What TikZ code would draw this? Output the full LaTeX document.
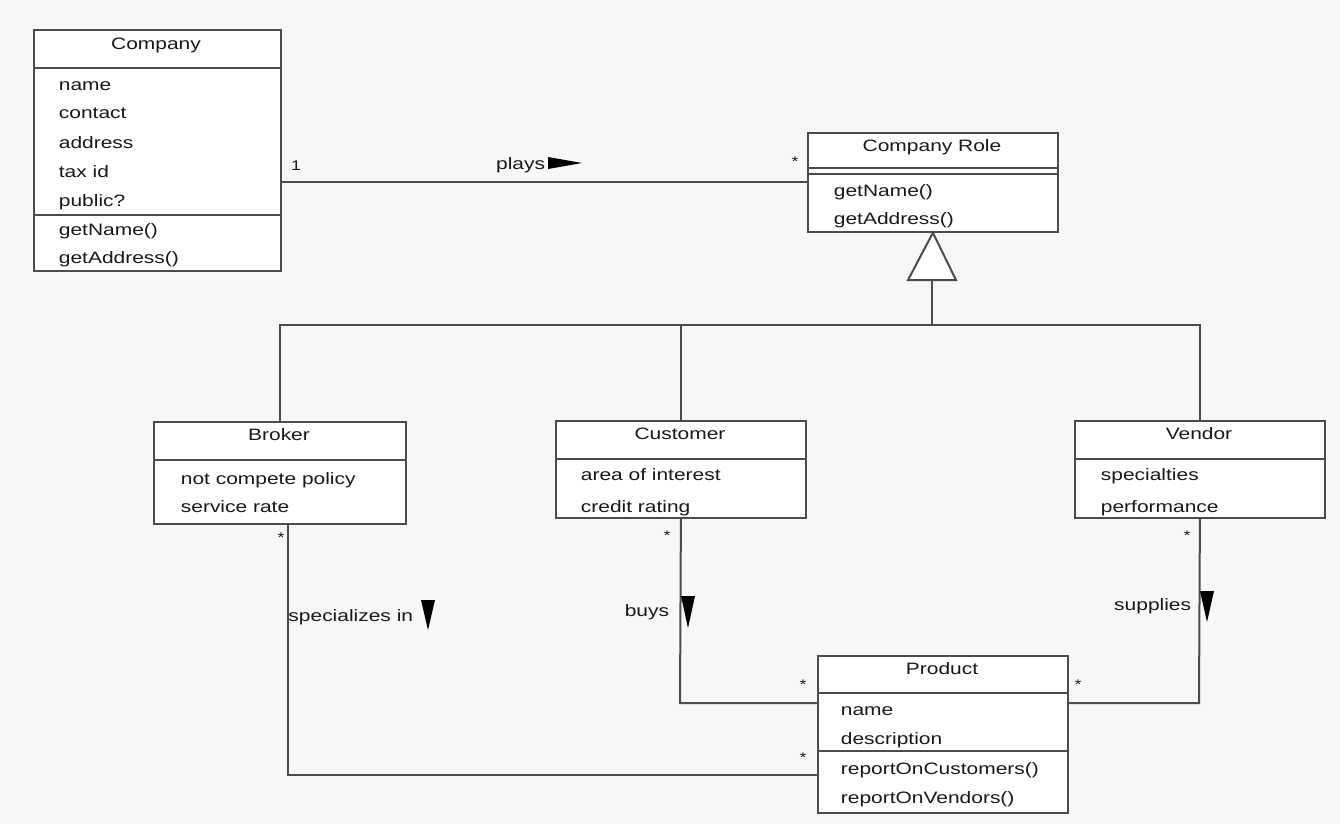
\documentclass[tikz,border=0pt]{standalone}
\usepackage{fontspec}
\setmainfont{Liberation Sans}[FakeStretch=1.27]
\begin{document}
\begin{tikzpicture}[x=1pt,y=-1pt,
  line width=1.8pt,
  every node/.style={font=\fontsize{16.5}{19}\selectfont, text=black!90},
  classbox/.style={draw=black!70, line width=1.8pt, fill=white, inner sep=0pt, anchor=north west},
  txt/.style={anchor=base west, inner sep=0pt},
  ttl/.style={anchor=base, inner sep=0pt},
  conn/.style={draw=black!70, line width=2pt},
  mult/.style={inner sep=0pt, font=\fontsize{14}{15}\selectfont},
  arr/.style={fill=black}]
\fill[black!3] (0,0) rectangle (1340,824);
\useasboundingbox (0,0) rectangle (1340,824);

% Company
\node[classbox, minimum width=247pt, minimum height=241pt] (company) at (33,29) {};
\draw[conn] (33,68) -- (280,68);
\draw[conn] (33,215) -- (280,215);
\node[ttl] (companyT) at (156,50) {Company};
\node[txt] (c1) at (58,91) {name};
\node[txt] (c2) at (58,119) {contact};
\node[txt] (c3) at (58,148) {address};
\node[txt] (c4) at (58,177) {tax id};
\node[txt] (c5) at (58,206) {public?};
\node[txt] (c6) at (58,235) {getName()};
\node[txt] (c7) at (58,263) {getAddress()};

% Company Role
\node[classbox, minimum width=250pt, minimum height=99pt] (role) at (807,132) {};
\draw[conn] (807,168) -- (1057,168);
\draw[conn] (807,174) -- (1057,174);
\node[ttl] (roleT) at (932,151) {Company Role};
\node[txt] (r1) at (833,196) {getName()};
\node[txt] (r2) at (833,224) {getAddress()};

% Broker
\node[classbox, minimum width=252pt, minimum height=102pt] (broker) at (153,421) {};
\draw[conn] (153,460) -- (405,460);
\node[ttl] (brokerT) at (279,440) {Broker};
\node[txt] (b1) at (180,484) {not compete policy};
\node[txt] (b2) at (180,512) {service rate};

% Customer
\node[classbox, minimum width=250pt, minimum height=97pt] (customer) at (555,420) {};
\draw[conn] (555,459) -- (805,459);
\node[ttl] (customerT) at (680,439) {Customer};
\node[txt] (u1) at (580,480) {area of interest};
\node[txt] (u2) at (580,512) {credit rating};

% Vendor
\node[classbox, minimum width=250pt, minimum height=97pt] (vendor) at (1074,420) {};
\draw[conn] (1074,459) -- (1324,459);
\node[ttl] (vendorT) at (1199,439) {Vendor};
\node[txt] (v1) at (1100,480) {specialties};
\node[txt] (v2) at (1100,512) {performance};

% Product
\node[classbox, minimum width=250pt, minimum height=157pt] (product) at (817,655) {};
\draw[conn] (817,693) -- (1067,693);
\draw[conn] (817,751) -- (1067,751);
\node[ttl] (productT) at (942,674) {Product};
\node[txt] (p1) at (840,715) {name};
\node[txt] (p2) at (840,744) {description};
\node[txt] (p3) at (840,774) {reportOnCustomers()};
\node[txt] (p4) at (840,803) {reportOnVendors()};

% plays association
\draw[conn] (role.west) -- (role.west -| company.east);
\node[mult] (m1) at (296,166) {1};
\node[mult] (m2) at (795,162) {*};
\node[inner sep=0pt, anchor=east] (plays) at (546,165) {plays};
\fill[arr] (548,157) -- (582,163) -- (548,169) -- cycle;

% generalization
\coordinate (gbase) at (932,280);
\coordinate (bus) at (932,325);
\draw[conn, fill=white] (role.south) -- (908,280) -- (956,280) -- cycle;
\draw[conn] (gbase) -- (bus);
\draw[conn] (broker.north) |- (bus -| vendor.north) -- (vendor.north);
\draw[conn] (customer.north) -- (customer.north |- bus);

% specializes in
\coordinate (bk) at (288,523);
\coordinate (bk2) at (288,775);
\draw[conn] (bk) -- (bk2) -- (bk2 -| product.west);
\node[mult] (m3) at (281,538) {*};
\node[mult] (m4) at (803,758) {*};
\node[inner sep=0pt, anchor=east] (spec) at (414,617) {specializes in};
\fill[arr] (421,600) -- (435,600) -- (428,630) -- cycle;

% buys
\coordinate (cu2) at (680,703);
\draw[conn] (customer.south) -- (cu2) -- (cu2 -| product.west);
\node[mult] (m5) at (667,536) {*};
\node[mult] (m6) at (803,685) {*};
\node[inner sep=0pt, anchor=east] (buys) at (670,612) {buys};
\fill[arr] (681,596) -- (695,596) -- (688,628) -- cycle;

% supplies
\coordinate (ve2) at (1199,703);
\draw[conn] (vendor.south) -- (ve2) -- (ve2 -| product.east);
\node[mult] (m7) at (1187,536) {*};
\node[mult] (m8) at (1078,685) {*};
\node[inner sep=0pt, anchor=east] (supp) at (1192,606) {supplies};
\fill[arr] (1200,591) -- (1214,591) -- (1207,622) -- cycle;
\end{tikzpicture}
\end{document}
